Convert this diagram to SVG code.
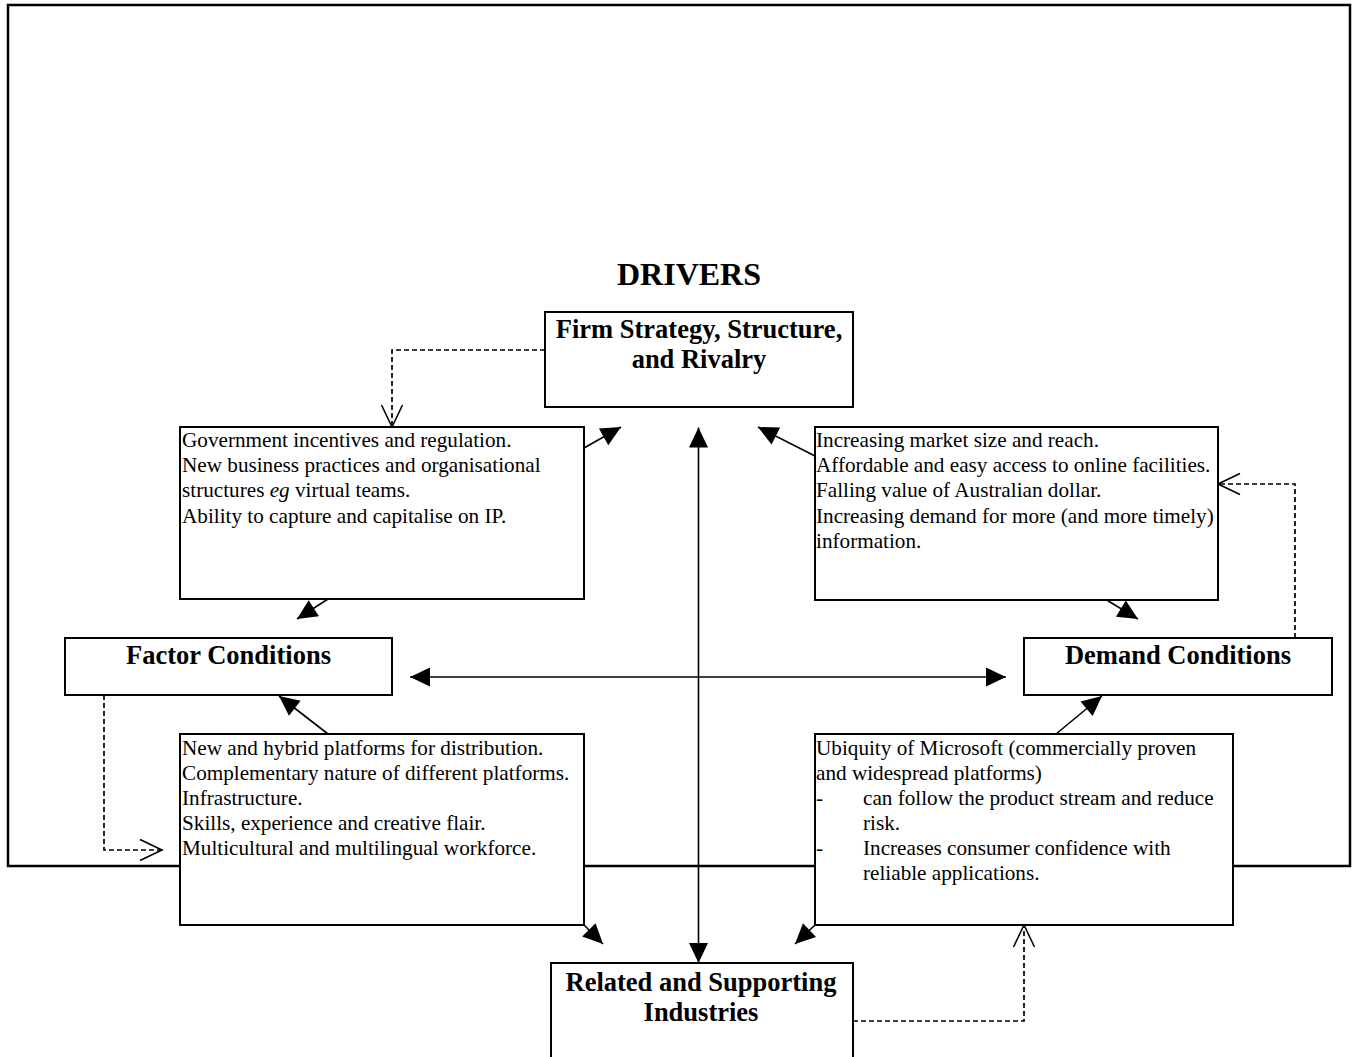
<svg xmlns="http://www.w3.org/2000/svg" width="1356" height="1057" viewBox="0 0 1356 1057">
<style>
.box{fill:#fff;stroke:#000;stroke-width:2}
.frame{fill:none;stroke:#000;stroke-width:2.5}
.t{font-family:"Liberation Serif","Times New Roman",serif;font-size:21.2px;fill:#000}
.h{font-family:"Liberation Serif","Times New Roman",serif;font-size:26.5px;font-weight:bold;fill:#000;text-anchor:middle}
.c{fill:none;stroke:#000;stroke-width:1.6}
.d{fill:none;stroke:#000;stroke-width:1.7;stroke-dasharray:5,3}
</style>
<defs>
<marker id="ah" markerUnits="userSpaceOnUse" markerWidth="22" markerHeight="21" refX="20" refY="9.5" orient="auto-start-reverse" overflow="visible">
<path d="M0,0 L20,9.5 L0,19 Z" fill="#000"/>
</marker>
<marker id="oh" markerUnits="userSpaceOnUse" markerWidth="24" markerHeight="24" refX="22" refY="10.5" orient="auto" overflow="visible">
<path d="M0,0 L22,10.5 L0,21" fill="none" stroke="#000" stroke-width="1.6"/>
</marker>
</defs>
<rect width="1356" height="1057" fill="#fff"/>
<rect id="frame" class="frame" x="8" y="5" width="1342" height="861"/>
<text id="title" class="h" x="689" y="285" style="font-size:32px">DRIVERS</text>

<g id="connectors">
<line class="c" x1="698.5" y1="427.5" x2="698.5" y2="963" marker-start="url(#ah)" marker-end="url(#ah)"/>
<line class="c" x1="410" y1="677" x2="1006" y2="677" marker-start="url(#ah)" marker-end="url(#ah)"/>
<line class="c" x1="584" y1="448" x2="621" y2="427" marker-end="url(#ah)"/>
<line class="c" x1="815" y1="456" x2="758" y2="427" marker-end="url(#ah)"/>
<line class="c" x1="328" y1="599" x2="297" y2="619" marker-end="url(#ah)"/>
<line class="c" x1="1105" y1="599" x2="1138" y2="619" marker-end="url(#ah)"/>
<line class="c" x1="328" y1="734" x2="279" y2="696" marker-end="url(#ah)"/>
<line class="c" x1="1056" y1="734" x2="1102" y2="696" marker-end="url(#ah)"/>
<line class="c" x1="583" y1="924" x2="603" y2="944" marker-end="url(#ah)"/>
<line class="c" x1="815" y1="925" x2="795" y2="944" marker-end="url(#ah)"/>
<polyline class="d" points="545,350 392,350 392,427" marker-end="url(#oh)"/>
<polyline class="d" points="104,695 104,850 162,850" marker-end="url(#oh)"/>
<polyline class="d" points="1295,638 1295,484 1218,484" marker-end="url(#oh)"/>
<polyline class="d" points="853,1021 1024,1021 1024,925" marker-end="url(#oh)"/>
</g>

<g id="firm">
<rect class="box" x="545" y="312" width="308" height="95"/>
<text class="h" x="699" y="338">Firm Strategy, Structure,</text>
<text class="h" x="699" y="368">and Rivalry</text>
</g>

<g id="factor-top">
<rect class="box" x="180" y="427" width="404" height="172"/>
<text class="t" x="182" y="447">Government incentives and regulation.</text>
<text class="t" x="182" y="472.2">New business practices and organisational</text>
<text class="t" x="182" y="497.4">structures <tspan font-style="italic">eg</tspan> virtual teams.</text>
<text class="t" x="182" y="522.6">Ability to capture and capitalise on IP.</text>
</g>

<g id="demand-top">
<rect class="box" x="815" y="427" width="403" height="173"/>
<text class="t" x="816" y="447">Increasing market size and reach.</text>
<text class="t" x="816" y="472.2">Affordable and easy access to online facilities.</text>
<text class="t" x="816" y="497.4">Falling value of Australian dollar.</text>
<text class="t" x="816" y="522.6">Increasing demand for more (and more timely)</text>
<text class="t" x="816" y="547.8">information.</text>
</g>

<g id="factor">
<rect class="box" x="65" y="638" width="327" height="57"/>
<text class="h" x="228.5" y="664">Factor Conditions</text>
</g>

<g id="demand">
<rect class="box" x="1024" y="638" width="308" height="57"/>
<text class="h" x="1178" y="664">Demand Conditions</text>
</g>

<g id="factor-bottom">
<rect class="box" x="180" y="734" width="404" height="191"/>
<text class="t" x="182" y="754.5">New and hybrid platforms for distribution.</text>
<text class="t" x="182" y="779.7">Complementary nature of different platforms.</text>
<text class="t" x="182" y="804.9">Infrastructure.</text>
<text class="t" x="182" y="830.1">Skills, experience and creative flair.</text>
<text class="t" x="182" y="855.3">Multicultural and multilingual workforce.</text>
</g>

<g id="demand-bottom">
<rect class="box" x="815" y="734" width="418" height="191"/>
<text class="t" x="816" y="755">Ubiquity of Microsoft (commercially proven</text>
<text class="t" x="816" y="780">and widespread platforms)</text>
<text class="t" x="816" y="805">-</text>
<text class="t" x="863" y="805">can follow the product stream and reduce</text>
<text class="t" x="863" y="830">risk.</text>
<text class="t" x="816" y="855">-</text>
<text class="t" x="863" y="855">Increases consumer confidence with</text>
<text class="t" x="863" y="880">reliable applications.</text>
</g>

<g id="related">
<rect class="box" x="551" y="963" width="302" height="110"/>
<text class="h" x="701" y="990.5">Related and Supporting</text>
<text class="h" x="701" y="1020.5">Industries</text>
</g>
</svg>
